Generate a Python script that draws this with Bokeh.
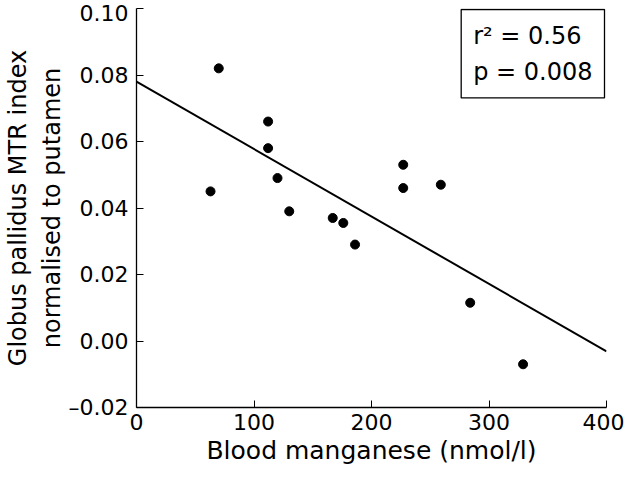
from bokeh.plotting import figure
from bokeh.models import Range1d, FixedTicker, Label
from bokeh.embed import file_html
from bokeh.resources import INLINE

# Data
manganese = [70, 63, 112, 112, 120, 130, 167, 176, 186, 227, 227, 259, 284, 329]
mtr_index = [0.082, 0.045, 0.066, 0.058, 0.049, 0.039, 0.037, 0.0355, 0.029,
             0.053, 0.046, 0.047, 0.0115, -0.007]
fit_x = [0, 400]
fit_y = [0.078, -0.0031]
x_ticks = [0, 100, 200, 300, 400]
y_ticks = [-0.02, 0.0, 0.02, 0.04, 0.06, 0.08, 0.10]
y_tick_labels = ["\u20130.02", "0.00", "0.02", "0.04", "0.06", "0.08", "0.10"]
x_title = "Blood manganese (nmol/l)"
y_title = "Globus pallidus MTR index\nnormalised to putamen"
stats_text = "r\u00b2 = 0.56\np = 0.008"

FONT = "DejaVu Sans"

p = figure(width=624, height=467, output_backend="svg", toolbar_location=None,
           x_range=Range1d(0, 400), y_range=Range1d(-0.02, 0.10),
           min_border_left=131, min_border_right=18, min_border_top=8,
           min_border_bottom=60)
p.outline_line_color = None
p.grid.visible = False
p.background_fill_color = "white"

p.line(fit_x, fit_y, line_color="black", line_width=2)
p.scatter(manganese, mtr_index, size=9, color="black")

for ax in (p.xaxis[0], p.yaxis[0]):
    ax.axis_line_color = "black"
    ax.axis_line_width = 1.3
    ax.major_tick_in = 7
    ax.major_tick_out = 0
    ax.minor_tick_in = 0
    ax.minor_tick_out = 0
    ax.major_tick_line_color = "black"
    ax.major_label_text_font = FONT
    ax.major_label_text_font_size = "22px"
    ax.major_label_text_color = "black"
    ax.axis_label_text_font = FONT
    ax.axis_label_text_font_style = "normal"
    ax.axis_label_text_color = "black"

p.xaxis.ticker = FixedTicker(ticks=x_ticks)
p.yaxis.ticker = FixedTicker(ticks=y_ticks)
p.yaxis.major_label_overrides = {t: l for t, l in zip(y_ticks, y_tick_labels)}
p.xaxis.major_label_standoff = 6
p.yaxis.major_label_standoff = 8
p.xaxis.axis_label = x_title
p.yaxis.axis_label = y_title
p.xaxis.axis_label_text_font_size = "25px"
p.yaxis.axis_label_text_font_size = "24px"
p.xaxis.axis_label_standoff = 3
p.yaxis.axis_label_standoff = 0

stats = Label(x=400, y=0.10, x_offset=-2, y_offset=-1, text=stats_text,
              anchor="top_right",
              text_font=FONT, text_font_size="24px", text_color="black",
              text_line_height=1.3, padding=12,
              border_line_color="black", border_line_width=1.3,
              background_fill_color="white")
p.add_layout(stats)

open("out.html", "w").write(file_html(p, INLINE))
